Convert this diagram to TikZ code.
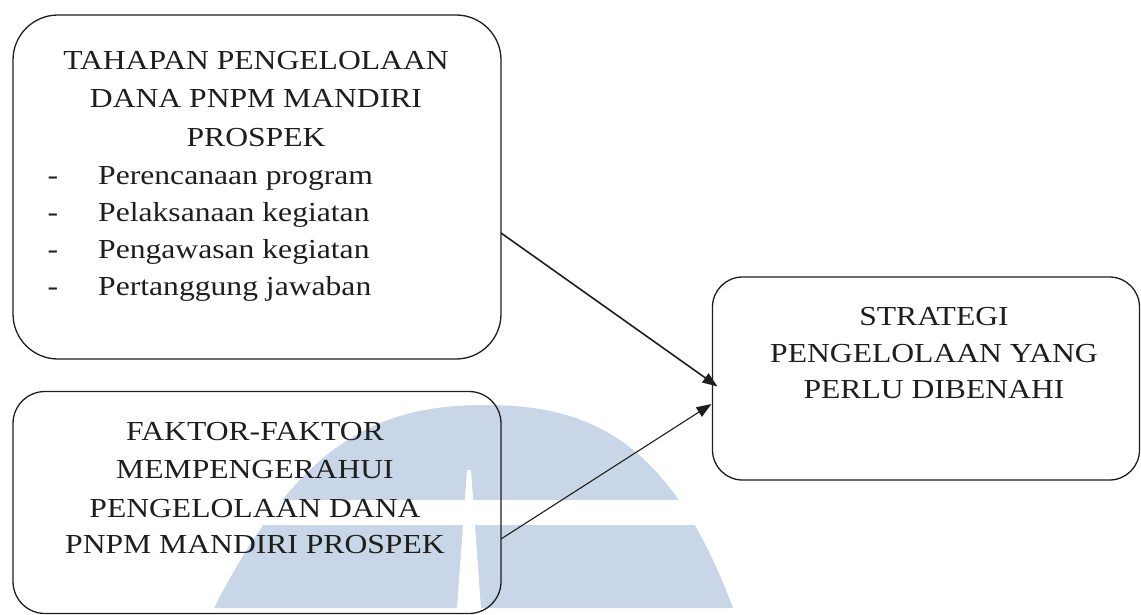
\documentclass[tikz,border=0pt]{standalone}
\usepackage{fontspec}
\setmainfont{Liberation Serif}[FakeStretch=1.15]
\usetikzlibrary{arrows.meta}
\definecolor{wmblue}{RGB}{200,214,232}
\definecolor{ink}{RGB}{30,30,30}
\tikzset{
  box/.style={draw=ink, line width=1.3pt, inner sep=0pt, outer sep=0pt},
  txt/.style={inner sep=0pt, anchor=base, text=ink, font=\fontsize{27.5}{33}\selectfont},
  itm/.style={inner sep=0pt, anchor=base west, text=ink, font=\fontsize{27.5}{33}\selectfont},
  dsh/.style={inner sep=0pt, anchor=base, text=ink, font=\fontsize{27.5}{33}\selectfont},
  conn/.style={draw=ink, -{Triangle[length=15pt,width=11pt]}}
}
\begin{document}
\begin{tikzpicture}[x=1pt,y=-1pt]
\useasboundingbox (0,0) rectangle (1141,615);
% watermark
\fill[wmblue] (214,608) .. controls (300,440) and (380,405) .. (485,405)
  .. controls (590,405) and (670,440) .. (733,608) -- cycle;
\fill[white] (150,500) rectangle (760,525);
\fill[white] (467,470) -- (471,470) -- (481,609) -- (457,609) -- cycle;
% boxes
\node[box, rounded corners=45pt, minimum width=488pt, minimum height=344pt] (b1) at (257,187) {};
\node[box, rounded corners=32pt, minimum width=488pt, minimum height=222pt] (b2) at (257,502.5) {};
\node[box, rounded corners=30pt, minimum width=427pt, minimum height=203pt] (b3) at (926,378.5) {};
% box 1 text
\node[txt] (h1) at (256,70) {TAHAPAN PENGELOLAAN};
\node[txt] (h2) at (256,108) {DANA PNPM MANDIRI};
\node[txt] (h3) at (256,147) {PROSPEK};
\node[dsh] (d1) at (53,185) {-};
\node[dsh] (d2) at (53,222) {-};
\node[dsh] (d3) at (53,258) {-};
\node[dsh] (d4) at (53,295) {-};
\node[itm] (i1) at (98,185) {Perencanaan program};
\node[itm] (i2) at (98,222) {Pelaksanaan kegiatan};
\node[itm] (i3) at (98,258) {Pengawasan kegiatan};
\node[itm] (i4) at (98,295) {Pertanggung jawaban};
% box 2 text
\node[txt] (f1) at (255,440) {FAKTOR-FAKTOR};
\node[txt] (f2) at (255,478) {MEMPENGERAHUI};
\node[txt] (f3) at (255,517) {PENGELOLAAN DANA};
\node[txt] (f4) at (255,553) {PNPM MANDIRI PROSPEK};
% box 3 text
\node[txt] (s1) at (934,325) {STRATEGI};
\node[txt] (s2) at (934,362) {PENGELOLAAN YANG};
\node[txt] (s3) at (934,398) {PERLU DIBENAHI};
% connectors
\draw[conn, line width=1.6pt] ([yshift=-46pt]b1.east) -- ([xshift=5pt,yshift=-8pt]b3.west);
\draw[conn, line width=1.1pt] ([yshift=-36.5pt]b2.east) -- ([xshift=-1pt,yshift=-25.5pt]b3.west);
\end{tikzpicture}
\end{document}
